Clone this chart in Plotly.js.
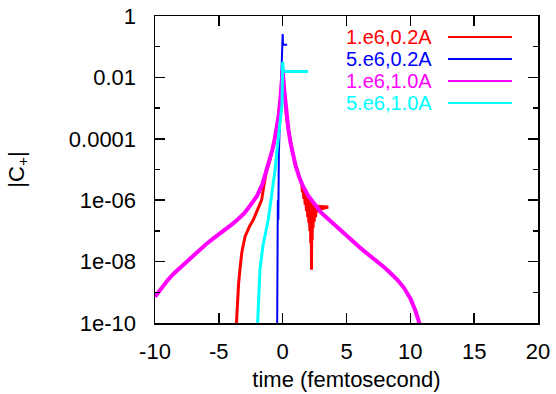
<!DOCTYPE html>
<html>
<head>
<meta charset="utf-8">
<script src="https://cdn.plot.ly/plotly-3.0.1.min.js"></script>
<style>html,body{margin:0;padding:0;background:#fff;}#chart{width:556px;height:394px;}</style>
</head>
<body>
<div id="chart"></div>
<script>
// ---- data (x in femtoseconds, y = |C+|) ----
const seriesNames = ["1.e6,0.2A", "5.e6,0.2A", "1.e6,1.0A", "5.e6,1.0A"];
const seriesColors = ["#ff0000", "#0000ff", "#ff00ff", "#00ffff"];
const seriesWidths = [3, 2, 4, 3];

// 1.e6,0.2A (red)
const redX = [-3.62, -3.55, -3.45, -3.35, -3.2, -2.95, -2.6, -2.3, -2.0, -1.65, -1.5, -1.3, -1.0, -0.8, -0.6, -0.45, -0.3, -0.2, -0.1, 0.0,
  0.1, 0.2, 0.3, 0.45, 0.6, 0.8, 1.0, 1.3, 1.5,
  1.55, 1.6, 1.66, 1.7, 1.76, 1.8, 1.86, 1.9, 1.96, 2.0, 2.05, 2.08, 2.13, 2.16, 2.2, 2.23, 2.26, 2.28, 2.31, 2.34, 2.38, 2.42, 2.47, 2.52, 2.58, 2.62, 2.7, 2.75, 3.57, 2.8];
const redY = [1e-10, 5e-10, 2e-9, 5.4e-9, 2e-8, 6.5e-8, 1.4e-7, 2.3e-7, 4.5e-7, 1.0e-6, 2.5e-6, 7.9e-6, 2.0e-5, 4.5e-5, 1.1e-4, 2.5e-4, 6.3e-4, 1.6e-3, 5.0e-3, 2.2e-2,
  5.0e-3, 1.6e-3, 5.0e-4, 2.0e-4, 7.9e-5, 3.2e-5, 1.4e-5, 5.6e-6, 3.2e-6,
  1.8e-6, 2.5e-6, 1.1e-6, 2.2e-6, 7.1e-7, 2.0e-6, 4.5e-7, 1.8e-6, 2.8e-7, 1.4e-6, 1.8e-7, 1.26e-6, 1.0e-7, 1.1e-6, 4.0e-8, 1.0e-6, 5.4e-9, 8.9e-7, 5.0e-8, 7.9e-7, 1.26e-7, 7.9e-7, 2.0e-7, 7.1e-7, 2.8e-7, 6.3e-7, 4.0e-7, 6.3e-7, 6.0e-7, 5.0e-7];

// 5.e6,0.2A (blue)
const blueX = [-0.43, -0.41, -0.38, -0.34, -0.3, -0.2, -0.12, -0.05, 0.0, 0.03, 0.35];
const blueY = [1e-10, 1e-8, 1e-6, 2.3e-7, 3.2e-5, 4.1e-4, 3.2e-3, 3.2e-2, 0.26, 0.115, 0.115];

// 1.e6,1.0A (magenta)
const magX = [-10, -9.5, -9, -8.5, -8, -7.5, -7, -6.5, -6, -5.5, -5, -4.5, -4, -3.5, -3, -2.5, -2, -1.6, -1.3, -1.0, -0.8, -0.6, -0.45, -0.3, -0.2, -0.1, 0.0,
  0.1, 0.2, 0.3, 0.45, 0.6, 0.8, 1.0, 1.3, 1.6, 2.0, 2.5, 3.0, 3.5, 4.0, 4.5, 5.0, 5.5, 6.0, 6.5, 7.0, 7.5, 8.0, 8.5, 9.0, 9.5, 10.0, 10.4, 10.75];
const magY = [7.2e-10, 1.4e-9, 2.5e-9, 4.2e-9, 6.6e-9, 1.0e-8, 1.6e-8, 2.4e-8, 3.7e-8, 5.4e-8, 7.6e-8, 1.07e-7, 1.6e-7, 2.4e-7, 3.8e-7, 7.1e-7, 1.4e-6, 3.2e-6, 7.9e-6, 2.0e-5, 4.5e-5, 1.1e-4, 2.5e-4, 6.3e-4, 1.6e-3, 5.0e-3, 1.8e-2,
  5.0e-3, 1.6e-3, 5.0e-4, 2.0e-4, 7.9e-5, 3.2e-5, 1.4e-5, 5.6e-6, 2.8e-6, 1.4e-6, 7.1e-7, 4.0e-7, 2.6e-7, 1.66e-7, 1.07e-7, 6.8e-8, 4.5e-8, 3.0e-8, 2.0e-8, 1.38e-8, 9.5e-9, 6.3e-9, 4.0e-9, 2.5e-9, 1.4e-9, 6.3e-10, 2.5e-10, 8.7e-11];

// 5.e6,1.0A (cyan)
const cyanX = [-1.96, -1.85, -1.78, -1.55, -1.13, -0.85, -0.6, -0.4, -0.2, -0.05, 0.0, 0.05, 1.98];
const cyanY = [1e-10, 1e-9, 5.4e-9, 3.2e-8, 2.3e-7, 1.6e-6, 9.5e-6, 6.3e-5, 4.1e-4, 1.3e-3, 3.2e-2, 1.55e-2, 1.55e-2];

const xTickVals = [-10, -5, 0, 5, 10, 15, 20];
const xTickText = ["-10", "-5", "0", "5", "10", "15", "20"];
const yTickVals = [1, 0.01, 1e-4, 1e-6, 1e-8, 1e-10];
const yTickText = ["1", "0.01", "0.0001", "1e-06", "1e-08", "1e-10"];
const yMinorVals = [0.1, 1e-3, 1e-5, 1e-7, 1e-9];

const xs = [redX, blueX, magX, cyanX];
const ys = [redY, blueY, magY, cyanY];

const FONT = "Liberation Sans, Arial, sans-serif";
const FS = 22;

const traces = xs.map((x, i) => ({
  type: "scatter", mode: "lines", x: x, y: ys[i], name: seriesNames[i],
  line: {color: seriesColors[i], width: seriesWidths[i]}, showlegend: false
}));

// gnuplot-style key: right-aligned coloured text with line sample at right
const annotations = [];
const shapes = [];
const rowY = [0.932, 0.860, 0.788, 0.717];
seriesNames.forEach((n, i) => {
  annotations.push({xref: "paper", yref: "paper", x: 0.726, y: rowY[i], xanchor: "right", yanchor: "middle",
    text: n, showarrow: false, borderpad: 0, font: {family: FONT, size: 20, color: seriesColors[i]}});
  shapes.push({type: "line", xref: "paper", yref: "paper", x0: 0.765, x1: 0.932, y0: rowY[i], y1: rowY[i],
    line: {color: seriesColors[i], width: 2}});
});

const layout = {
  width: 556, height: 394,
  margin: {l: 155, r: 18, t: 16, b: 71},
  paper_bgcolor: "#fff", plot_bgcolor: "#fff",
  font: {family: FONT, size: FS, color: "#000"},
  showlegend: false,
  xaxis: {
    range: [-10, 20], tickvals: xTickVals, ticktext: xTickText, ticks: "inside", ticklen: 10, tickwidth: 1.5, tickcolor: "#000",
    showline: true, linecolor: "#000", linewidth: 1.5, mirror: "ticks", showgrid: false, zeroline: false,
    ticklabelstandoff: 8,
    title: {text: "time (femtosecond)", font: {size: FS}, standoff: 8}
  },
  yaxis: {
    type: "log", range: [-10, 0], tickvals: yTickVals, ticktext: yTickText, ticks: "inside", ticklen: 10, tickwidth: 1.5, tickcolor: "#000",
    showline: true, linecolor: "#000", linewidth: 1.5, mirror: "ticks", showgrid: false, zeroline: false,
    ticklabelstandoff: 13,
    minor: {tickvals: yMinorVals, ticks: "inside", ticklen: 5, tickwidth: 1.5, tickcolor: "#000", showgrid: false},
    title: {text: "|C<sub>+</sub>|", font: {size: FS}, standoff: 38}
  },
  annotations: annotations,
  shapes: shapes
};

Plotly.newPlot("chart", traces, layout, {staticPlot: true, displayModeBar: false});
</script>
</body>
</html>
